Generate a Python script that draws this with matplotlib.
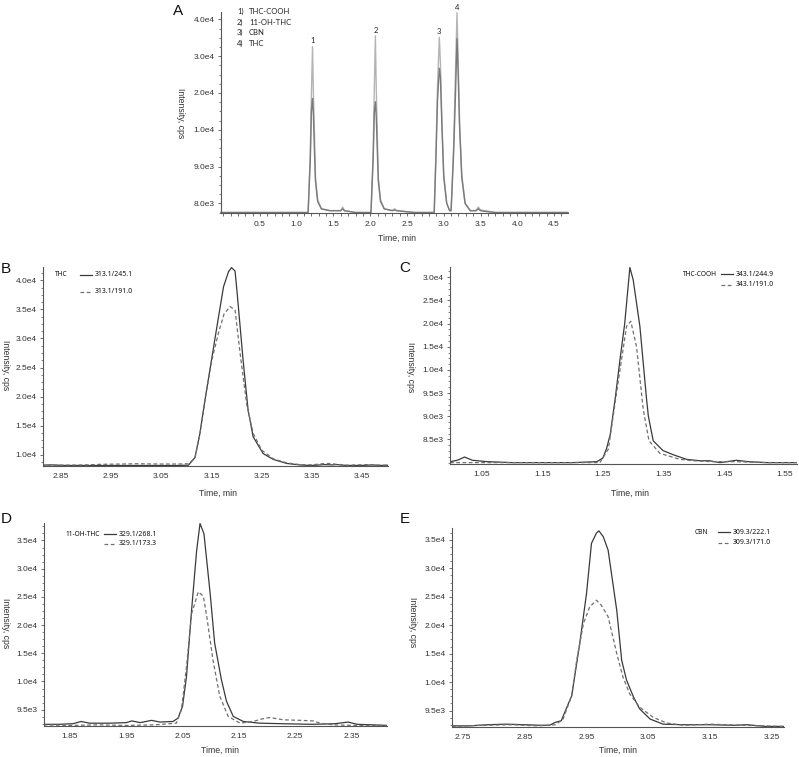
import numpy as np
import matplotlib
matplotlib.use("Agg")
import matplotlib.pyplot as plt
from matplotlib.lines import Line2D
from matplotlib.ticker import FixedLocator, MultipleLocator

plt.rcParams["font.family"] = ["Liberation Sans", "DejaVu Sans"]

W, H = 799, 757
SOLID, DASH, SPINE, TXT = "#3a3a3a", "#707070", "#555555", "#333333"
A_HI, A_LO = "#b4b4b4", "#7a7a7a"

# ---------------- data ----------------
# A: overview, two overlaid traces
A_TIME = [-0.03, 0.5, 1.0, 1.155, 1.185, 1.200, 1.215, 1.227, 1.240, 1.255, 1.285, 1.335, 1.45, 1.60,
          1.625, 1.65, 1.80, 2.01, 2.04, 2.055, 2.07, 2.082, 2.095, 2.11, 2.14, 2.19, 2.30, 2.33, 2.36,
          2.60, 2.87, 2.895, 2.915, 2.94, 2.955, 2.975, 3.00, 3.04, 3.08, 3.10, 3.135, 3.16, 3.18, 3.195,
          3.215, 3.245, 3.29, 3.36, 3.44, 3.47, 3.50, 3.56, 3.70, 4.20, 4.69]
A_UPPER = [7.75e3, 7.75e3, 7.75e3, 7.75e3, 9.4e3, 2.0e4, 3.26e4, 2.0e4, 1.0e4, 8.7e3, 8.1e3, 7.85e3, 7.8e3,
           7.8e3, 7.9e3, 7.8e3, 7.75e3, 7.75e3, 9.4e3, 2.1e4, 3.55e4, 2.1e4, 1.0e4, 8.7e3, 8.1e3, 7.85e3,
           7.8e3, 7.85e3, 7.8e3, 7.75e3, 7.75e3, 9.5e3, 2.2e4, 3.51e4, 2.8e4, 1.2e4, 8.8e3, 8.0e3, 7.8e3,
           7.8e3, 9.6e3, 2.6e4, 4.18e4, 3.0e4, 1.2e4, 8.8e3, 8.0e3, 7.8e3, 7.8e3, 7.9e3, 7.82e3, 7.8e3,
           7.75e3, 7.75e3, 7.75e3]
A_LOWER = [7.75e3, 7.75e3, 7.75e3, 7.75e3, 9.2e3, 1.5e4, 1.85e4, 1.4e4, 9.5e3, 8.6e3, 8.05e3, 7.85e3, 7.8e3,
           7.8e3, 7.85e3, 7.8e3, 7.75e3, 7.75e3, 9.2e3, 1.45e4, 1.76e4, 1.35e4, 9.5e3, 8.6e3, 8.05e3, 7.85e3,
           7.8e3, 7.82e3, 7.8e3, 7.75e3, 7.75e3, 9.3e3, 1.8e4, 2.67e4, 2.4e4, 1.1e4, 8.7e3, 8.0e3, 7.8e3,
           7.8e3, 9.4e3, 2.0e4, 3.48e4, 2.6e4, 1.1e4, 8.7e3, 8.0e3, 7.8e3, 7.8e3, 7.85e3, 7.8e3, 7.78e3,
           7.75e3, 7.75e3, 7.75e3]
A_PEAK_TIMES = [1.215, 2.07, 2.94, 3.18]
A_PEAK_LABELS = ["1", "2", "3", "4"]
A_COMPOUNDS = ["THC-COOH", "11-OH-THC", "CBN", "THC"]
A_YTICKS = [8.0e3, 9.0e3, 1.0e4, 2.0e4, 3.0e4, 4.0e4]
A_YLABELS = ["8.0e3", "9.0e3", "1.0e4", "2.0e4", "3.0e4", "4.0e4"]

# B: THC
B_T_SOLID = [2.81, 2.83, 2.86, 2.90, 2.95, 3.00, 3.05, 3.08, 3.104, 3.117, 3.127, 3.137, 3.150, 3.164,
             3.174, 3.184, 3.190, 3.197, 3.201, 3.213, 3.223, 3.233, 3.253, 3.273, 3.300, 3.326, 3.345,
             3.36, 3.375, 3.39, 3.40, 3.42, 3.45, 3.47, 3.49, 3.502]
B_SOLID = [8.2e3, 8.25e3, 8.15e3, 8.15e3, 8.15e3, 8.15e3, 8.15e3, 8.15e3, 8.2e3, 9.5e3, 1.37e4, 1.94e4,
           2.63e4, 3.37e4, 3.89e4, 4.15e4, 4.22e4, 4.16e4, 3.8e4, 2.63e4, 1.77e4, 1.31e4, 1.02e4, 9.2e3,
           8.5e3, 8.25e3, 8.15e3, 8.2e3, 8.3e3, 8.25e3, 8.3e3, 8.15e3, 8.15e3, 8.25e3, 8.15e3, 8.2e3]
B_T_DASH = [2.81, 2.85, 2.90, 2.93, 2.97, 3.00, 3.05, 3.08, 3.104, 3.117, 3.127, 3.137, 3.150, 3.164,
            3.175, 3.187, 3.197, 3.207, 3.220, 3.233, 3.250, 3.273, 3.300, 3.326, 3.35, 3.37, 3.385,
            3.40, 3.42, 3.46, 3.48, 3.502]
B_DASH = [8.2e3, 8.2e3, 8.25e3, 8.35e3, 8.4e3, 8.45e3, 8.4e3, 8.4e3, 8.45e3, 9.4e3, 1.36e4, 1.93e4,
          2.6e4, 3.1e4, 3.42e4, 3.55e4, 3.49e4, 2.75e4, 1.88e4, 1.37e4, 1.08e4, 9.3e3, 8.6e3, 8.3e3,
          8.25e3, 8.45e3, 8.5e3, 8.35e3, 8.2e3, 8.3e3, 8.2e3, 8.2e3]
B_YTICKS = [1.0e4, 1.5e4, 2.0e4, 2.5e4, 3.0e4, 3.5e4, 4.0e4]
B_YLABELS = ["1.0e4", "1.5e4", "2.0e4", "2.5e4", "3.0e4", "3.5e4", "4.0e4"]

# C: THC-COOH
C_T_SOLID = [0.998, 1.010, 1.022, 1.035, 1.06, 1.10, 1.15, 1.20, 1.240, 1.250, 1.256, 1.262, 1.270,
             1.278, 1.286, 1.2945, 1.300, 1.311, 1.322, 1.325, 1.333, 1.349, 1.366, 1.388, 1.41, 1.426,
             1.443, 1.47, 1.49, 1.52, 1.57]
C_SOLID = [8.02e3, 8.05e3, 8.12e3, 8.05e3, 8.02e3, 8.0e3, 8.0e3, 8.0e3, 8.02e3, 8.1e3, 8.3e3, 8.6e3,
           9.35e3, 1.2e4, 2.0e4, 3.21e4, 2.94e4, 1.94e4, 9.37e3, 9.0e3, 8.47e3, 8.26e3, 8.17e3, 8.07e3,
           8.04e3, 8.04e3, 8.0e3, 8.05e3, 8.02e3, 8.0e3, 8.0e3]
C_T_DASH = [0.998, 1.05, 1.10, 1.15, 1.20, 1.245, 1.259, 1.2725, 1.289, 1.296, 1.3055, 1.3165, 1.326,
            1.344, 1.377, 1.399, 1.43, 1.47, 1.52, 1.57]
C_DASH = [8.0e3, 8.0e3, 8.0e3, 8.0e3, 8.0e3, 8.0e3, 8.29e3, 9.5e3, 1.94e4, 2.05e4, 1.5e4, 9.15e3,
          8.47e3, 8.2e3, 8.07e3, 8.04e3, 8.02e3, 8.02e3, 8.0e3, 8.0e3]
C_YTICKS = [8.5e3, 9.0e3, 9.5e3, 1.0e4, 1.5e4, 2.0e4, 2.5e4, 3.0e4]
C_YLABELS = ["8.5e3", "9.0e3", "9.5e3", "1.0e4", "1.5e4", "2.0e4", "2.5e4", "3.0e4"]

# D: 11-OH-THC
D_T_SOLID = [1.803, 1.83, 1.855, 1.87, 1.885, 1.92, 1.95, 1.96, 1.975, 1.995, 2.01, 2.033, 2.042, 2.05,
             2.057, 2.066, 2.075, 2.081, 2.088, 2.099, 2.107, 2.119, 2.128, 2.14, 2.158, 2.187, 2.229,
             2.28, 2.32, 2.344, 2.36, 2.39, 2.412]
D_SOLID = [9.24e3, 9.24e3, 9.25e3, 9.29e3, 9.26e3, 9.26e3, 9.27e3, 9.3e3, 9.27e3, 9.31e3, 9.28e3, 9.29e3,
           9.35e3, 9.56e3, 1.09e4, 2.26e4, 3.32e4, 3.8e4, 3.62e4, 2.56e4, 1.68e4, 1.03e4, 9.65e3, 9.38e3,
           9.29e3, 9.26e3, 9.25e3, 9.24e3, 9.25e3, 9.28e3, 9.24e3, 9.23e3, 9.22e3]
D_T_DASH = [1.803, 1.85, 1.90, 1.95, 2.0, 2.039, 2.048, 2.057, 2.066, 2.078, 2.087, 2.093, 2.104, 2.116,
            2.131, 2.152, 2.175, 2.193, 2.205, 2.229, 2.26, 2.282, 2.294, 2.317, 2.36, 2.412]
D_DASH = [9.23e3, 9.22e3, 9.23e3, 9.22e3, 9.23e3, 9.26e3, 9.5e3, 1.26e4, 2.2e4, 2.59e4, 2.51e4, 2.15e4,
          1.38e4, 9.74e3, 9.38e3, 9.26e3, 9.29e3, 9.34e3, 9.36e3, 9.32e3, 9.31e3, 9.3e3, 9.26e3, 9.23e3,
          9.22e3, 9.22e3]
D_YTICKS = [9.5e3, 1.0e4, 1.5e4, 2.0e4, 2.5e4, 3.0e4, 3.5e4]
D_YLABELS = ["9.5e3", "1.0e4", "1.5e4", "2.0e4", "2.5e4", "3.0e4", "3.5e4"]

# E: CBN
E_T_SOLID = [2.732, 2.76, 2.79, 2.82, 2.85, 2.875, 2.89, 2.899, 2.909, 2.926, 2.939, 2.95, 2.958, 2.966,
             2.97, 2.977, 2.985, 2.999, 3.007, 3.015, 3.026, 3.036, 3.053, 3.074, 3.107, 3.15, 3.188,
             3.21, 3.24, 3.27]
E_SOLID = [9.23e3, 9.23e3, 9.25e3, 9.26e3, 9.25e3, 9.24e3, 9.24e3, 9.29e3, 9.32e3, 9.76e3, 1.68e4,
           2.56e4, 3.44e4, 3.62e4, 3.66e4, 3.56e4, 3.32e4, 2.26e4, 1.38e4, 1.03e4, 9.74e3, 9.53e3,
           9.35e3, 9.26e3, 9.25e3, 9.25e3, 9.24e3, 9.25e3, 9.22e3, 9.22e3]
E_T_DASH = [2.732, 2.78, 2.83, 2.87, 2.90, 2.912, 2.926, 2.934, 2.945, 2.955, 2.966, 2.974, 2.985, 2.999,
            3.009, 3.02, 3.036, 3.058, 3.08, 3.107, 3.15, 3.2, 3.27]
E_DASH = [9.22e3, 9.24e3, 9.25e3, 9.23e3, 9.25e3, 9.35e3, 9.76e3, 1.38e4, 2.03e4, 2.32e4, 2.44e4,
          2.35e4, 2.15e4, 1.5e4, 1.09e4, 9.79e3, 9.56e3, 9.38e3, 9.28e3, 9.24e3, 9.26e3, 9.24e3, 9.22e3]
E_YTICKS = D_YTICKS
E_YLABELS = D_YLABELS


def px(x, y):
    return x / W, 1 - y / H


def stepped_scale(ticks):
    """instrument-style axis: labelled ticks sit at equal spacing"""
    t = np.asarray(ticks, float)
    d0, d1 = t[1] - t[0], t[-1] - t[-2]
    v = np.r_[t[0] - 1e6 * d0, t[0] - d0, t, t[-1] + d1, t[-1] + 1e6 * d1]
    p = np.r_[-1e6 - 1, -1, np.arange(len(t)), len(t), len(t) + 1e6]
    return (lambda x: np.interp(x, v, p)), (lambda y: np.interp(y, p, v))


def make_axes(box, xlim, ylim, xticks, yticks, ylabels, xminor=None):
    l, t, r, b = box
    ax = fig.add_axes([l / W, 1 - b / H, (r - l) / W, (b - t) / H])
    fwd, inv = stepped_scale(yticks)
    ax.set_yscale("function", functions=(fwd, inv))
    ax.set_xlim(*xlim); ax.set_ylim(*ylim)
    ax.set_yticks(yticks); ax.set_yticklabels(ylabels)
    pmin, pmax = fwd(np.array(ylim))
    ax.yaxis.set_minor_locator(FixedLocator(inv(np.arange(np.ceil(pmin * 4) / 4, pmax, 0.25))))
    ax.set_xticks(xticks)
    ax.set_xticklabels([f"{x:.2f}" if xminor is None else f"{x:.1f}" for x in xticks])
    if xminor:
        ax.xaxis.set_minor_locator(MultipleLocator(xminor))
        ax.tick_params(axis="x", which="both", length=2, width=0.6, color=SPINE, pad=4)
    else:
        ax.tick_params(axis="x", which="both", length=0, pad=5)
    ax.tick_params(axis="y", which="major", length=2.5, width=0.6, color=SPINE, pad=2)
    ax.tick_params(axis="y", which="minor", length=1.5, width=0.5, color=SPINE)
    ax.tick_params(labelsize=6, labelcolor=TXT)
    for s in ("top", "right"):
        ax.spines[s].set_visible(False)
    for s in ("left", "bottom"):
        ax.spines[s].set_color(SPINE); ax.spines[s].set_linewidth(0.8)
    ax.patch.set_alpha(0)
    return ax


def labels(letter, lpos, xl, yl):
    fig.text(*px(*lpos), letter, fontsize=11, ha="center", va="center", color="#111111")
    fig.text(*px(*xl), "Time, min", fontsize=6.3, ha="center", va="center", color=TXT)
    fig.text(*px(*yl), "Intensity, cps", fontsize=6.3, ha="center", va="center", rotation=270, color=TXT)


def mrm_legend(name, name_end, line_x, ys, trans):
    # compound name right-aligned, then solid / dashed sample lines with the transitions
    fig.text(*px(name_end, ys[0]), name, fontsize=4.8, fontweight="bold", family="Noto Sans",
             ha="right", va="center", color="#111111")
    for y, ls, col, lab in zip(ys, ["-", (0, (3, 2))], [SOLID, DASH], trans):
        fig.add_artist(Line2D([line_x / W, (line_x + 12) / W], [1 - y / H] * 2, color=col, lw=0.9, ls=ls))
        fig.text(*px(line_x + 15, y), lab, fontsize=5.0, fontweight="bold", family="Noto Sans",
                 va="center", color="#111111")


fig = plt.figure(figsize=(W / 100, H / 100), dpi=100)

# ---- A: overview ----
a = make_axes((221, 12, 568, 212.5), (-0.03, 4.69), (7.75e3, 4.2e4), np.arange(0.5, 4.51, 0.5),
              A_YTICKS, A_YLABELS, xminor=0.1)
a.plot(A_TIME, A_UPPER, color=A_HI, lw=1.0, clip_on=False)
a.plot(A_TIME, A_LOWER, color=A_LO, lw=1.0, clip_on=False)
for tp, lab in zip(A_PEAK_TIMES, A_PEAK_LABELS):
    a.annotate(lab, (tp, np.interp(tp, A_TIME, A_UPPER)), xytext=(0, 1.5), textcoords="offset points",
               ha="center", va="bottom", fontsize=5.5, family="Lato", color="#222222")
for i, (lab, name) in enumerate(zip(A_PEAK_LABELS, A_COMPOUNDS)):
    y = 11.7 + i * 10.5
    fig.text(*px(237, y), lab + ")", fontsize=5.5, family="Lato", va="center", color="#222222")
    fig.text(*px(249, y), name, fontsize=5.5, family="Lato", va="center", color="#222222")
labels("A", (178, 11), (397, 238), (180, 113))

# ---- B: THC ----
b = make_axes((43, 267, 388, 466), (2.814, 3.502), (8.06e3, 4.23e4), np.arange(2.85, 3.46, 0.1),
              B_YTICKS, B_YLABELS)
b.plot(B_T_SOLID, B_SOLID, color=SOLID, lw=0.9)
b.plot(B_T_DASH, B_DASH, color=DASH, lw=0.9, ls=(0, (3, 2)))
labels("B", (6, 269), (218, 493), (5, 365))
mrm_legend("THC", 68, 80, (275, 292), ["313.1/245.1", "313.1/191.0"])

# ---- C: THC-COOH ----
c = make_axes((450, 267, 797, 464), (0.998, 1.57), (7.97e3, 3.22e4), np.arange(1.05, 1.56, 0.1),
              C_YTICKS, C_YLABELS)
c.plot(C_T_SOLID, C_SOLID, color=SOLID, lw=0.9)
c.plot(C_T_DASH, C_DASH, color=DASH, lw=0.9, ls=(0, (3, 2)))
labels("C", (405, 268), (630, 493), (410, 367))
mrm_legend("THC-COOH", 717, 721, (274, 285), ["343.1/244.9", "343.1/191.0"])

# ---- D: 11-OH-THC ----
d = make_axes((44, 523, 387, 726), (1.804, 2.413), (9.21e3, 3.81e4), np.arange(1.85, 2.36, 0.1),
              D_YTICKS, D_YLABELS)
d.plot(D_T_SOLID, D_SOLID, color=SOLID, lw=0.9)
d.plot(D_T_DASH, D_DASH, color=DASH, lw=0.9, ls=(0, (3, 2)))
labels("D", (6, 519), (220, 750), (5, 623))
mrm_legend("11-OH-THC", 100, 104, (534, 543.5), ["329.1/268.1", "329.1/173.3"])

# ---- E: CBN ----
e = make_axes((452, 528, 784, 727), (2.732, 3.27), (9.21e3, 3.71e4), np.arange(2.75, 3.26, 0.1),
              E_YTICKS, E_YLABELS)
e.plot(E_T_SOLID, E_SOLID, color=SOLID, lw=0.9)
e.plot(E_T_DASH, E_DASH, color=DASH, lw=0.9, ls=(0, (3, 2)))
labels("E", (405, 519), (618, 750), (412, 622))
mrm_legend("CBN", 708, 718, (532, 543), ["309.3/222.1", "309.3/171.0"])

fig.savefig("out.png", dpi=100)
